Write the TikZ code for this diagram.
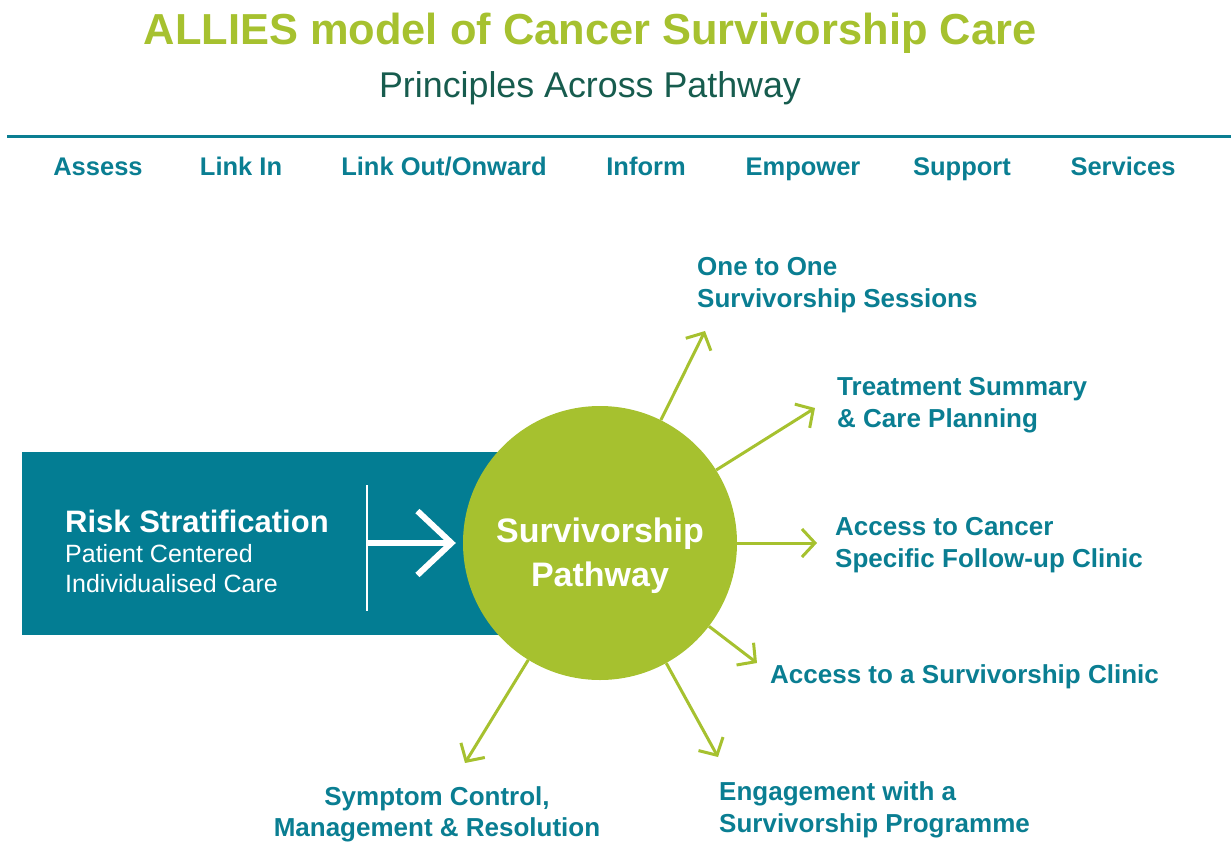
\documentclass[tikz,border=0pt]{standalone}
\usepackage{fontspec}
\setmainfont{Liberation Sans}
\usetikzlibrary{positioning,arrows.meta}
\definecolor{alliesgreen}{HTML}{A6C12F}
\definecolor{alliesteal}{HTML}{0A7E92}
\definecolor{boxteal}{HTML}{037D93}
\definecolor{darkgreen}{HTML}{175C4E}
\newcommand{\fsz}[2]{\fontsize{#1}{#2}\selectfont}

\begin{document}
\begin{tikzpicture}[x=1pt,y=-1pt,
    principle/.style={anchor=base,inner sep=0,text=alliesteal,font=\fsz{25.5}{30}\bfseries},
    outcome/.style={anchor=base west,align=left,inner sep=0,text=alliesteal,font=\fsz{26}{32}\bfseries},
    spoke/.style={draw=alliesgreen,line width=3pt,-{Straight Barb[length=13pt,width=28pt]}}]
    \useasboundingbox (0,0) rectangle (1231,843);

    % Heading
    \node (title) [anchor=base,inner sep=0,text=alliesgreen,font=\fsz{43.4}{50}\bfseries] at (590,45) {ALLIES model of Cancer Survivorship Care};
    \node (subtitle) [anchor=base,inner sep=0,text=darkgreen,font=\fsz{35.8}{40}] at (590,97) {Principles Across Pathway};
    \coordinate (rule_l) at (7,136.5);
    \coordinate (rule_r) at (1231,136.5);
    \draw[alliesteal,line width=3pt] (rule_l) -- (rule_r);

    % Principles
    \node (assess) [principle] at (98,175) {Assess};
    \node (linkin) [principle] at (241,175) {Link In};
    \node (linkout) [principle] at (444,175) {Link Out/Onward};
    \node (inform) [principle] at (646,175) {Inform};
    \node (empower) [principle] at (803,175) {Empower};
    \node (support) [principle] at (962,175) {Support};
    \node (services) [principle] at (1123,175) {Services};

    % Risk stratification box
    \node (riskbox) [anchor=north west,fill=boxteal,minimum width=478pt,minimum height=183pt,inner sep=0] at (22,452) {};
    \node (risktext) [anchor=base west,align=left,inner sep=0,text=white,font=\fsz{25}{30}] at (65,592)
        {{\fsz{31}{30}\bfseries Risk Stratification}\\Patient Centered\\Individualised Care};
    \coordinate (bar_top) at (367,485);
    \coordinate (bar_bot) at (367,611);
    \draw[white,line width=2.5pt] (bar_top) -- (bar_bot);

    \node (path) [circle,fill=alliesgreen,minimum size=274pt,inner sep=0] at (600,543) {};
    \node (pathlabel) [anchor=base,align=center,inner sep=0,text=white,font=\fsz{34}{44}\bfseries] at (600,586) {Survivorship\\Pathway};
    \draw[white,line width=6pt,-{Straight Barb[length=34pt,width=64pt]},shorten >=7pt] (bar_top |- path) -- (path.west);

    % Spokes
    \coordinate (tip1) at (705,331);
    \coordinate (tip2) at (815,408);
    \coordinate (tip3) at (817,543);
    \coordinate (tip4) at (757,663);
    \coordinate (tip5) at (718,757);
    \coordinate (tip6) at (465,763);
    \foreach \t in {1,...,6}
        \draw[spoke] (path) -- (tip\t);

    % Outcomes
    \node (sessions) [outcome] at (697,307) {One to One\\Survivorship Sessions};
    \node (summary) [outcome] at (837,427) {Treatment Summary\\\& Care Planning};
    \node (followup) [outcome] at (835,567) {Access to Cancer\\Specific Follow-up Clinic};
    \node (clinic) [outcome] at (770,683) {Access to a Survivorship Clinic};
    \node (programme) [outcome] at (719,832) {Engagement with a\\Survivorship Programme};
    \node (symptom) [outcome,anchor=base,align=center,font=\fsz{26}{31}\bfseries] at (437,836) {Symptom Control,\\Management \& Resolution};
\end{tikzpicture}
\end{document}
